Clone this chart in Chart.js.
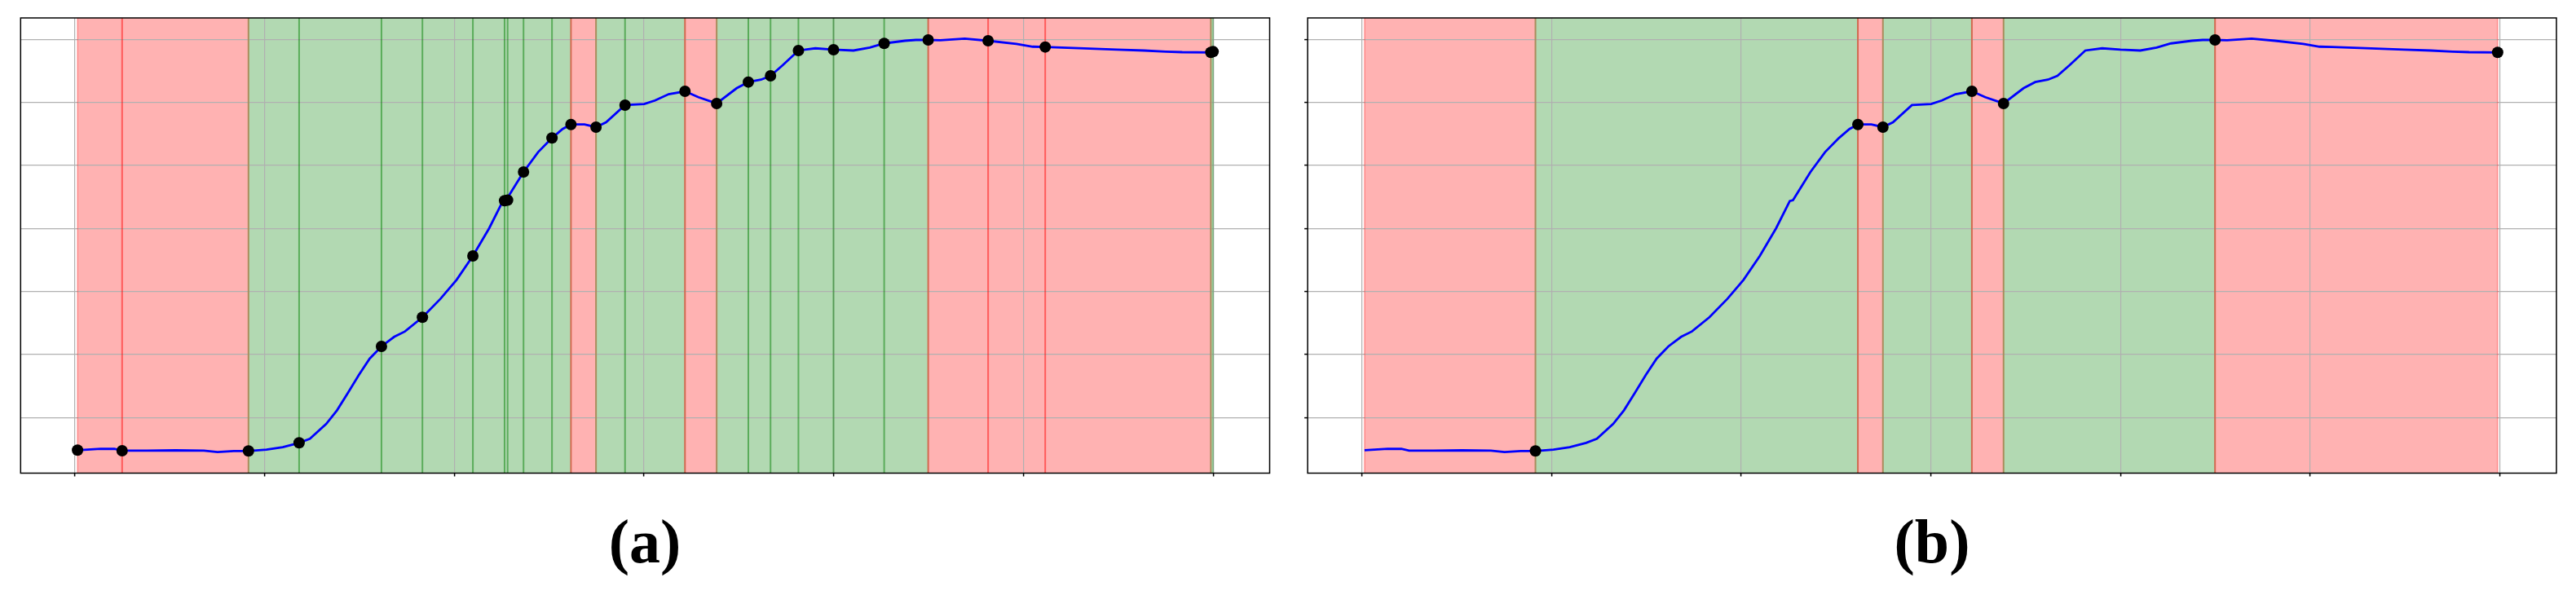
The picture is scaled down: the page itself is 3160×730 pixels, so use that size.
<!DOCTYPE html>
<html>
<head>
<meta charset="utf-8">
<script src="https://cdn.jsdelivr.net/npm/chart.js@4.4.0/dist/chart.umd.min.js"></script>
<style>
  html, body { margin: 0; padding: 0; background: #fff; }
  body { width: 3160px; height: 730px; position: relative; overflow: hidden; }
  canvas { position: absolute; top: 0; }
  .cap {
    position: absolute; top: 626px;
    font-family: "Liberation Serif", serif; font-weight: bold; font-size: 76px;
    line-height: 1; transform: translateX(-50%); color: #000;
  }
</style>
</head>
<body>
<canvas id="panel_a" width="1580" height="600" style="left:0"></canvas>
<canvas id="panel_b" width="1580" height="600" style="left:1580px"></canvas>
<div class="cap" style="left:791px">(a)</div>
<div class="cap" style="left:2370px">(b)</div>
<script>
// blue curve (x and y in grid units)
const curveX = [0.14, 1.36, 2.08, 2.49, 3.79, 5.3, 6.80, 7.52, 8.38, 9.15, 10.10, 10.96, 11.82, 12.39, 13.25, 13.82,
  14.40, 14.97, 15.54, 16.16, 16.83, 17.40, 18.32, 19.27, 20.12, 20.98, 21.84, 22.56, 22.73, 23.65, 24.42, 25.15,
  25.71, 26.15, 26.86, 27.47, 28.00, 29.00, 30.01, 30.58, 31.30, 32.16, 32.87, 33.83, 34.88, 35.50, 36.17, 36.67,
  37.31, 38.14, 39.03, 39.99, 41.04, 41.90, 42.66, 43.76, 44.33, 44.98, 45.62, 46.91, 48.14, 49.63, 50.49, 51.15,
  53.21, 54.93, 56.36, 57.51, 58.37, 59.88, 60.0];
const curveY = [-5.17, -4.97, -4.97, -5.26, -5.26, -5.2, -5.26, -5.48, -5.30, -5.30, -5.10, -4.71, -4.01, -3.36, -1.00, 1.16,
  3.96, 6.76, 9.35, 11.29, 12.80, 13.66, 15.91, 18.83, 21.85, 25.64, 30.04, 34.35, 34.5, 38.96, 42.11, 44.35,
  45.78, 46.50, 46.50, 46.08, 46.85, 49.57, 49.74, 50.31, 51.31, 51.76, 50.82, 49.83, 52.24, 53.23, 53.61, 54.22,
  55.90, 58.23, 58.58, 58.36, 58.23, 58.71, 59.36, 59.78, 59.91, 59.91, 59.87, 60.13, 59.78, 59.27, 58.84, 58.79,
  58.58, 58.36, 58.23, 58.06, 57.97, 57.93, 58.05];

// panel (a): every checkpoint
const dotsAX = [0.14, 2.49, 9.15, 11.82, 16.16, 18.32, 20.98, 22.65, 22.81, 23.65, 25.15, 26.15, 27.47, 29.00,
  32.16, 33.83, 35.50, 36.67, 38.14, 39.99, 42.66, 44.98, 48.14, 51.15, 59.88, 60.0];
const dotsAY = [-5.17, -5.26, -5.30, -4.01, 11.29, 15.91, 25.64, 34.4, 34.5, 38.96, 44.35, 46.50, 46.08, 49.57,
  51.76, 49.83, 53.23, 54.22, 58.23, 58.36, 59.36, 59.91, 59.78, 58.79, 57.93, 58.05];
const statesA = ['loss', 'loss', 'gain', 'gain', 'gain', 'gain', 'gain', 'gain', 'gain', 'gain', 'gain', 'loss',
  'gain', 'gain', 'loss', 'gain', 'gain', 'gain', 'gain', 'gain', 'gain', 'loss', 'loss', 'loss', 'gain'];

// panel (b): only the turning points
const edgesB = [0.14, 9.15, 26.15, 27.47, 32.16, 33.83, 44.98, 59.88];
const dotsBX = [9.15, 26.15, 27.47, 32.16, 33.83, 44.98, 59.88];
const dotsBY = [-5.30, 46.50, 46.08, 51.76, 49.83, 59.91, 57.93];
const statesB = ['loss', 'gain', 'loss', 'gain', 'loss', 'gain', 'loss'];

const xTicks = [0, 10, 20, 30, 40, 50, 60];
const yTicks = [0, 10, 20, 30, 40, 50, 60];

const BAND = { gain: 'rgba(0,128,0,0.3)', loss: 'rgba(255,0,0,0.3)' };
const LINE = { gain: 'rgba(0,128,0,0.5)', loss: 'rgba(255,0,0,0.5)' };
const EDGE_LINE = { gain: 'rgba(0,128,0,0.25)', loss: 'rgba(255,0,0,0.25)' };
const TURN = { gain: 'rgb(170,140,92)', loss: 'rgb(210,105,80)' };

const pts = (xs, ys) => xs.map((x, i) => ({ x: x, y: ys[i] }));

const stripes = {
  id: 'stripes',
  beforeDraw(chart, args, opts) {
    const { ctx, chartArea: a, scales: { x } } = chart;
    ctx.save();
    opts.states.forEach((s, i) => {
      const x0 = x.getPixelForValue(opts.edges[i]);
      const x1 = x.getPixelForValue(opts.edges[i + 1]);
      ctx.fillStyle = BAND[s];
      ctx.fillRect(x0, a.top, x1 - x0, a.bottom - a.top);
    });
    ctx.restore();
  },
  beforeDatasetsDraw(chart, args, opts) {
    const { ctx, chartArea: a, scales: { x } } = chart;
    ctx.save();
    ctx.lineWidth = 2;
    opts.edges.forEach((e, i) => {
      const left = opts.states[i - 1], right = opts.states[i];
      let col;
      if (left && right) col = left === right ? LINE[left] : TURN[right];
      else col = EDGE_LINE[left || right];
      const px = x.getPixelForValue(e);
      ctx.strokeStyle = col;
      ctx.beginPath();
      ctx.moveTo(px, a.top);
      ctx.lineTo(px, a.bottom);
      ctx.stroke();
    });
    ctx.restore();
  },
  afterDraw(chart) {
    const { ctx, chartArea: a } = chart;
    ctx.save();
    ctx.strokeStyle = '#000';
    ctx.lineWidth = 1.5;
    ctx.strokeRect(a.left, a.top, a.right - a.left, a.bottom - a.top);
    ctx.restore();
  }
};

function makePanel(id, dots, edges, states, padding, yTickMarks) {
  new Chart(document.getElementById(id), {
    type: 'scatter',
    data: {
      datasets: [
        { data: dots, showLine: false, pointRadius: 7, pointBackgroundColor: '#000', pointBorderWidth: 0, order: 0 },
        { data: pts(curveX, curveY), showLine: true, borderColor: '#0000ff', borderWidth: 2.8,
          pointRadius: 0, tension: 0, order: 1 }
      ]
    },
    options: {
      responsive: false,
      animation: false,
      devicePixelRatio: 1,
      layout: { padding: padding },
      plugins: {
        legend: { display: false },
        tooltip: { enabled: false },
        stripes: { edges: edges, states: states }
      },
      scales: {
        x: {
          type: 'linear', min: -2.86, max: 62.98,
          afterBuildTicks: s => { s.ticks = xTicks.map(v => ({ value: v })); },
          ticks: { display: false },
          grid: { color: '#b0b0b0', lineWidth: 1.2, drawTicks: true, tickLength: 4, tickColor: '#000', tickWidth: 1.5 },
          border: { display: false }
        },
        y: {
          type: 'linear', min: -8.82, max: 63.4,
          afterBuildTicks: s => { s.ticks = yTicks.map(v => ({ value: v })); },
          ticks: { display: false },
          grid: { color: '#b0b0b0', lineWidth: 1.2, drawTicks: yTickMarks, tickLength: 4, tickColor: '#000', tickWidth: 1.5 },
          border: { display: false }
        }
      }
    },
    plugins: [stripes]
  });
}

// edges of panel (a) are the checkpoints themselves
makePanel('panel_a', pts(dotsAX, dotsAY), dotsAX, statesA, { left: 25.3, top: 22, right: 22.5, bottom: 15.5 }, false);
makePanel('panel_b', pts(dotsBX, dotsBY), edgesB, statesB, { left: 20.1, top: 22, right: 24, bottom: 15.5 }, true);
</script>
</body>
</html>
